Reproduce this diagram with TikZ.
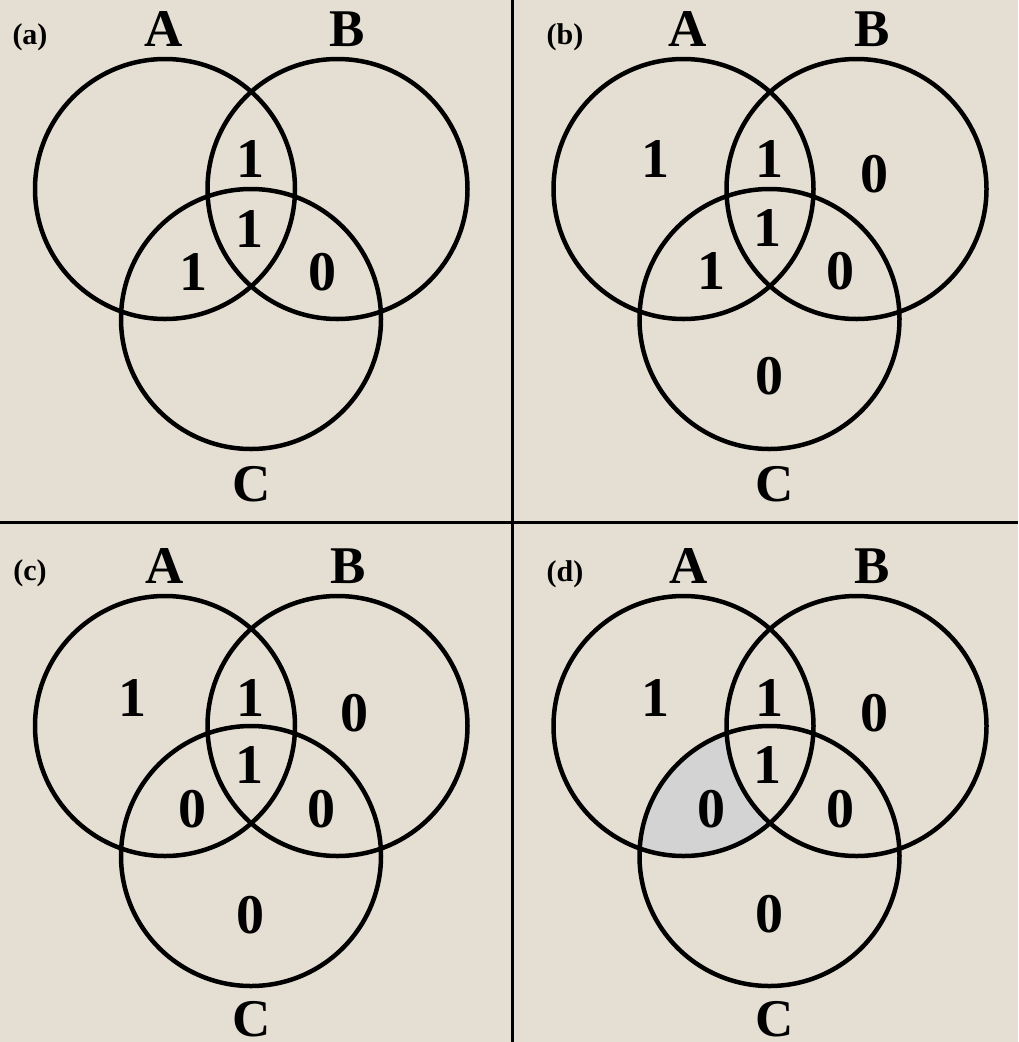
\documentclass[tikz,border=0pt]{standalone}
\usepackage{fontspec}
\setmainfont{Liberation Serif}
\usepackage{tikz}
\definecolor{paperBeige}{RGB}{229, 222, 210}
\definecolor{shadeGray}{RGB}{211, 211, 211}

\begin{document}
\begin{tikzpicture}[x=1pt, y=-1pt,
  setline/.style={draw=black, line width=4.5pt},
  divider/.style={draw=black, line width=3pt},
  setname/.style={inner sep=0pt, font=\fontsize{53}{53}\selectfont\bfseries},
  bit/.style={inner sep=0pt, font=\fontsize{56}{56}\selectfont\bfseries},
  tag/.style={inner sep=0pt, font=\fontsize{30}{30}\selectfont\bfseries},
]
  \useasboundingbox (0,0) rectangle (1018,1042);
  \fill[paperBeige] (0,0) rectangle (1018,1042);

  % (d): shaded region A and C, not B
  \begin{scope}
    \clip (683.5,726) circle (130);
    \clip (769.5,856) circle (130);
    \fill[shadeGray, even odd rule] (500,500) rectangle (1018,1042) (856.5,726) circle (130);
  \end{scope}

  % panel dividers
  \coordinate (vTop) at (512,0);   \coordinate (vBot) at (512,1042);
  \coordinate (hLft) at (0,522);   \coordinate (hRgt) at (1018,522);
  \draw[divider] (vTop) -- (vBot);
  \draw[divider] (hLft) -- (hRgt);

  % circles of the four panels
  \draw[setline] (165,189) circle (130);   \draw[setline] (337.5,189) circle (130);
  \draw[setline] (251,319) circle (130);
  \draw[setline] (683.5,189) circle (130); \draw[setline] (856.5,189) circle (130);
  \draw[setline] (769.5,319) circle (130);
  \draw[setline] (165,726) circle (130);   \draw[setline] (337.5,726) circle (130);
  \draw[setline] (251,856) circle (130);
  \draw[setline] (683.5,726) circle (130); \draw[setline] (856.5,726) circle (130);
  \draw[setline] (769.5,856) circle (130);

  % (a)
  \node[tag] (aTag) at (30,37) {(a)};
  \node[setname] (aA) at (164,29) {A};
  \node[setname] (aB) at (347,29) {B};
  \node[setname] (aC) at (252,484) {C};
  \node[bit] (aAB)  at (250,159) {1};
  \node[bit] (aABC) at (249,229) {1};
  \node[bit] (aAC)  at (193,272) {1};
  \node[bit] (aBC)  at (322,272) {0};

  % (b)
  \node[tag] (bTag) at (565,37) {(b)};
  \node[setname] (bA) at (688,29) {A};
  \node[setname] (bB) at (872,29) {B};
  \node[setname] (bC) at (775,484) {C};
  \node[bit] (bAo)  at (655,159) {1};
  \node[bit] (bAB)  at (769,159) {1};
  \node[bit] (bBo)  at (874,174) {0};
  \node[bit] (bABC) at (767,228) {1};
  \node[bit] (bAC)  at (711,271) {1};
  \node[bit] (bBC)  at (840,271) {0};
  \node[bit] (bCo)  at (769,376) {0};

  % (c)
  \node[tag] (cTag) at (30,573) {(c)};
  \node[setname] (cA) at (165,566) {A};
  \node[setname] (cB) at (348,566) {B};
  \node[setname] (cC) at (252,1019) {C};
  \node[bit] (cAo)  at (132,698) {1};
  \node[bit] (cAB)  at (250,698) {1};
  \node[bit] (cBo)  at (354,713) {0};
  \node[bit] (cABC) at (249,765) {1};
  \node[bit] (cAC)  at (192,809) {0};
  \node[bit] (cBC)  at (321,809) {0};
  \node[bit] (cCo)  at (250,915) {0};

  % (d)
  \node[tag] (dTag) at (565,574) {(d)};
  \node[setname] (dA) at (689,566) {A};
  \node[setname] (dB) at (872,566) {B};
  \node[setname] (dC) at (775,1019) {C};
  \node[bit] (dAo)  at (655,698) {1};
  \node[bit] (dAB)  at (769,698) {1};
  \node[bit] (dBo)  at (874,713) {0};
  \node[bit] (dABC) at (767,765) {1};
  \node[bit] (dAC)  at (711,809) {0};
  \node[bit] (dBC)  at (840,809) {0};
  \node[bit] (dCo)  at (769,914) {0};
\end{tikzpicture}
\end{document}
